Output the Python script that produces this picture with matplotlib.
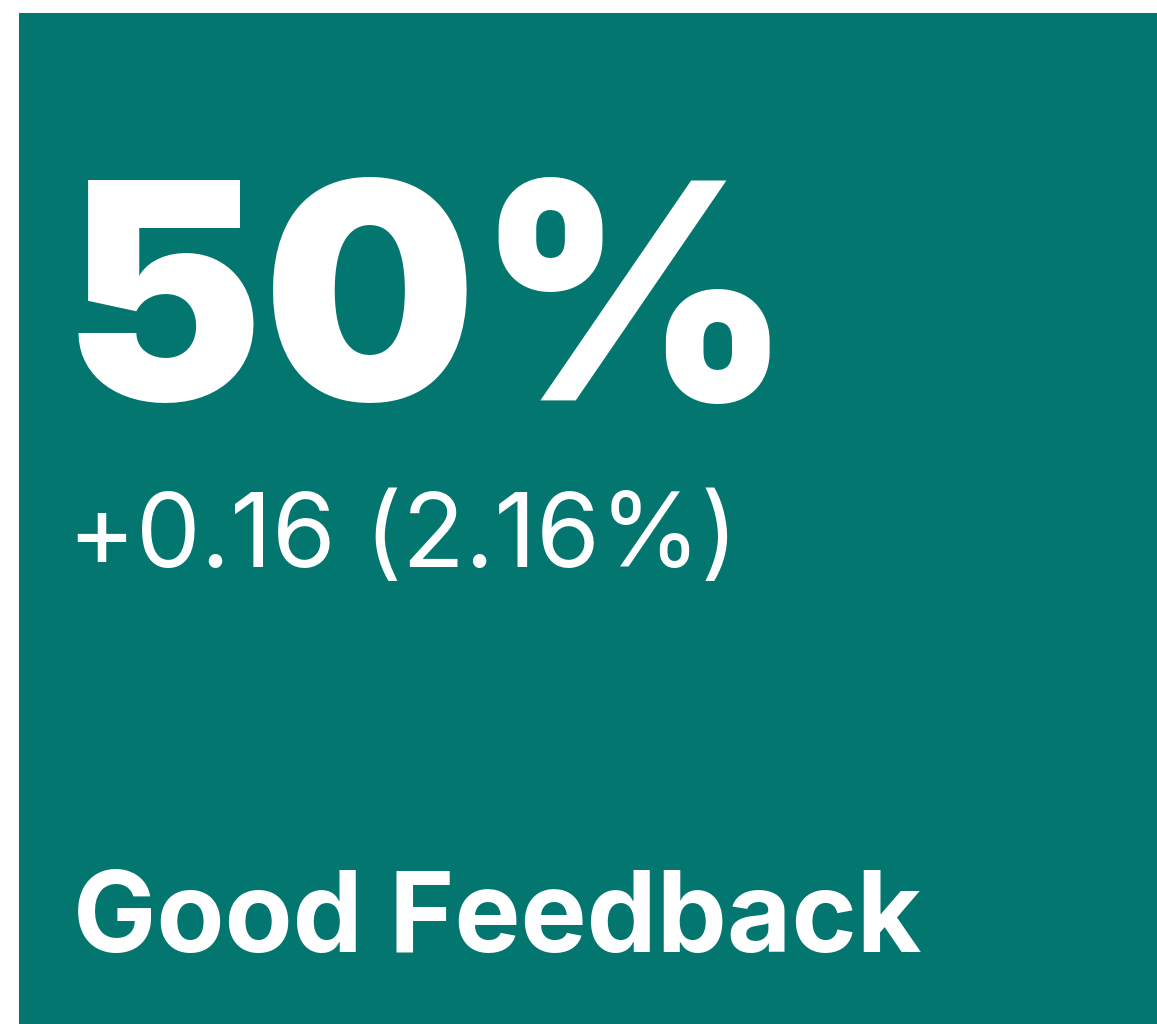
import matplotlib
matplotlib.use("Agg")
import matplotlib.pyplot as plt
from matplotlib.patches import Rectangle

# Data
kpi_value = 50          # percent
delta = 0.16
delta_pct = 2.16
kpi_label = "Good Feedback"

W, H = 1157, 1024
fig = plt.figure(figsize=(W / 100, H / 100), dpi=100)
fig.patch.set_facecolor("white")
ax = fig.add_axes([0, 0, 1, 1])
ax.set_xlim(0, W)
ax.set_ylim(H, 0)
ax.axis("off")

teal = "#02766F"
ax.add_patch(Rectangle((19, 13), W - 19, H - 13, facecolor=teal, edgecolor="none"))

ax.text(62, 400, f"{kpi_value}%", color="white", fontsize=217, fontfamily="Inter",
        fontweight="black", va="baseline", ha="left")
ax.text(68, 567, f"+{delta:.2f} ({delta_pct:.2f}%)", color="white", fontsize=74,
        fontfamily="Inter", fontweight="normal", va="baseline", ha="left")
ax.text(73, 952, kpi_label, color="white", fontsize=80, fontfamily="Inter",
        fontweight="bold", va="baseline", ha="left")

fig.savefig("out.png", dpi=100, facecolor="white")
